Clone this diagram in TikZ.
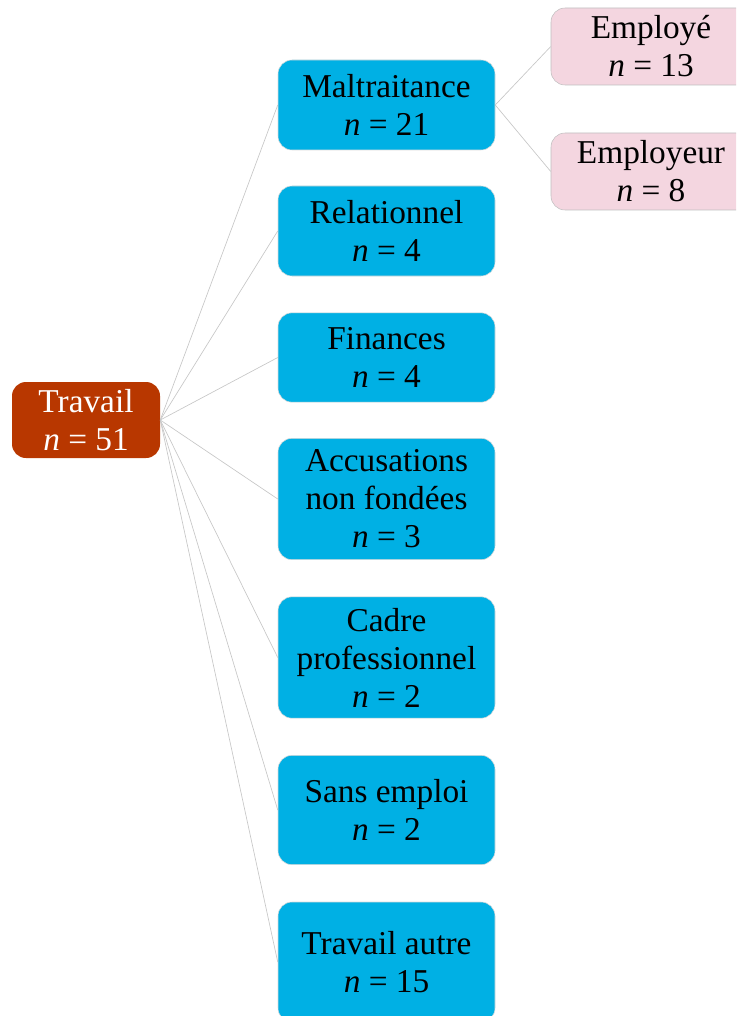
\documentclass[tikz,border=0pt]{standalone}
\usepackage{fontspec}
\setmainfont{Liberation Serif}
\definecolor{travailred}{RGB}{184,55,0}
\definecolor{catblue}{RGB}{0,176,228}
\definecolor{subpink}{RGB}{244,214,224}
\begin{document}
\begin{tikzpicture}[x=0.75pt, y=-0.75pt,
every node/.style={rounded corners=10.5pt, align=center, inner sep=0pt,
  font=\fontsize{25}{28.5}\selectfont},
root/.style={fill=travailred, text=white, minimum width=111pt, minimum height=57pt},
cat/.style={fill=catblue, draw=black!15, line width=0.4pt, minimum width=162.75pt},
sub/.style={fill=subpink, draw=black!25, line width=0.4pt, minimum width=150pt, minimum height=57.75pt},
link/.style={draw=black!22, line width=0.5pt}]
\clip (0,0) rectangle (736,1016);
\node[root] (travail) at (86,420) {Travail\\\textit{n} = 51};
\node[cat, minimum height=67.5pt] (malt) at (386.5,105) {Maltraitance\\\textit{n} = 21};
\node[cat, minimum height=67.5pt] (rel) at (386.5,231) {Relationnel\\\textit{n} = 4};
\node[cat, minimum height=67pt] (fin) at (386.5,357.5) {Finances\\\textit{n} = 4};
\node[cat, minimum height=91pt] (acc) at (386.5,499) {Accusations\\non fondées\\\textit{n} = 3};
\node[cat, minimum height=91pt] (cadre) at (386.5,657.5) {Cadre\\professionnel\\\textit{n} = 2};
\node[cat, minimum height=82pt] (sans) at (386.5,810) {Sans emploi\\\textit{n} = 2};
\node[cat, minimum height=90pt] (autre) at (386.5,962) {Travail autre\\\textit{n} = 15};
\node[sub] (employe) at (651,46.5) {Employé\\\textit{n} = 13};
\node[sub] (employeur) at (651,171.5) {Employeur\\\textit{n} = 8};
\foreach \c in {malt,rel,fin,acc,cadre,sans,autre}
  \draw[link] (travail.east) -- (\c.west);
\draw[link] (malt.east) -- (employe.west);
\draw[link] (malt.east) -- (employeur.west);
\end{tikzpicture}
\end{document}
